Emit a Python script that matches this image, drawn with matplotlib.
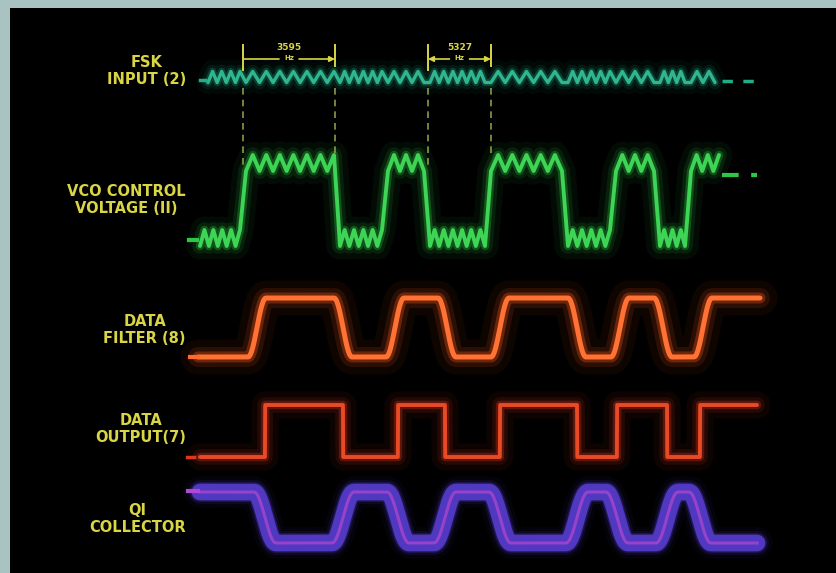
import numpy as np
import matplotlib.pyplot as plt

# scope trace data (horizontal positions in screen units, levels in screen units)
fsk_freqs = [3595, 5327]          # Hz, mark / space tones
vco_edges = [243, 337, 385, 427, 488, 565, 613, 657, 688]
vco_span = [197, 722]
vco_levels = [238, 163]           # low, high
fsk_level = 77
filter_edges = [257, 343, 395, 447, 500, 577, 620, 663, 703]
filter_span = [198, 760]
filter_levels = [357, 298]
output_edges = [265, 343, 398, 445, 500, 577, 617, 667, 700]
output_span = [200, 757]
output_levels = [457, 405]
q1_levels = [543, 492]            # level when output high, when output low
labels = ['FSK\nINPUT (2)', 'VCO CONTROL\nVOLTAGE (II)', 'DATA\nFILTER (8)',
          'DATA\nOUTPUT(7)', 'QI\nCOLLECTOR']
label_y = [71, 200, 330, 429, 519]
marks = [(243, 335, '3595'), (428, 491, '5327')]

YEL = '#d9d545'


def bit_at(x, edges):
    return np.searchsorted(edges, x, side='right') % 2


def step_trace(edges, span, levels, smooth=0.0):
    x = np.linspace(span[0], span[1], 2000)
    if smooth == 0:
        b = bit_at(x, edges).astype(float)
    else:
        b = np.zeros_like(x)
        for i, e in enumerate(edges):
            s = np.clip((x - e + smooth / 2) / smooth, 0, 1)
            s = 0.5 - 0.5 * np.cos(np.pi * s)
            b += s if i % 2 == 0 else -s
    y = levels[0] + (levels[1] - levels[0]) * b
    return x, y


def ripple_trace(edges, span, levels, amp, k=54000):
    xs, ys = [], []
    bounds = [span[0]] + edges + [span[1]]
    for i in range(len(bounds) - 1):
        a, b = bounds[i], bounds[i + 1]
        bit = i % 2
        period = k / (fsk_freqs[0] if bit else fsk_freqs[1])
        n = max(2, int(round((b - a) / (period / 2))))
        px = np.linspace(a + 3, b - 3, n + 1)
        py = levels[bit] + amp * np.where(np.arange(n + 1) % 2 == 0, 1, -1)
        xs.extend(px)
        ys.extend(py)
    return np.array(xs), np.array(ys)


def glow(ax, x, y, color, lw, core=None, spread=1.0):
    for w, a in [(7, 0.06), (4, 0.12), (2.2, 0.3)]:
        ax.plot(x, y, color=color, lw=lw + (w - 1) * lw * spread, alpha=a,
                solid_capstyle='round', solid_joinstyle='round')
    ax.plot(x, y, color=core or color, lw=lw, solid_joinstyle='round',
            solid_capstyle='round')


fig = plt.figure(figsize=(8.37, 5.73), dpi=100)
fig.patch.set_facecolor('#a9c3c2')
ax = fig.add_axes([10 / 837, 0, 827 / 837, 565 / 573])
ax.set_facecolor('black')
ax.set_xlim(10, 837)
ax.set_ylim(573, 8)
ax.axis('off')
ax.add_patch(plt.Rectangle((10, 8), 827, 565, color='black', zorder=-5))

# FSK input
fx, fy = ripple_trace(vco_edges, [205, 718], [fsk_level, fsk_level], 5.5)
glow(ax, fx, fy, '#1c9e7c', 2.4, '#2fb68e')
ax.plot([722, 757], [81, 81], color='#1fae86', lw=2.5, ls=(0, (3, 3)))
ax.plot([200, 205], [80, 80], color='#1fae86', lw=2.5)

# VCO control voltage
vx, vy = ripple_trace(vco_edges, vco_span, vco_levels, 8)
glow(ax, vx, vy, '#2cc845', 2.8, '#3ed456')
ax.plot([722, 757], [175, 175], color='#2cc845', lw=3, ls=(0, (4, 3)))
ax.plot([189, 197], [240, 240], color='#2cc845', lw=3)

# Data filter
dx, dy = step_trace(filter_edges, filter_span, filter_levels, smooth=18)
glow(ax, dx, dy, '#ff5a1e', 3.6, '#ff7233')
ax.plot([190, 198], [357, 357], color='#ff6a2a', lw=3)

# Data output
ox, oy = step_trace(output_edges, output_span, output_levels)
glow(ax, ox, oy, '#e0361e', 2.8, '#e84a26')
ax.plot([187, 194], [457, 457], color='#e0361e', lw=2.5)

# Q1 collector
qx, qy = step_trace(output_edges, output_span,
                    [q1_levels[1], q1_levels[0]], smooth=22)
glow(ax, qx, qy, '#4a36c8', 12, '#5038c0', spread=0.15)
ax.plot(qx, qy, color='#a044cc', lw=2.2, alpha=0.9)
ax.plot([188, 198], [491, 491], color='#b048d0', lw=3)

# labels
for t, y in zip(labels, label_y):
    ax.text(186, y, t, color=YEL, fontsize=10.5, fontweight='bold',
            ha='right', va='center', multialignment='center',
            linespacing=1.15, family='DejaVu Sans')

# frequency markers
for x0, x1, txt in marks:
    ax.plot([x0, x0], [88, 165], color='#8a9a45', lw=1.2, ls=(0, (4, 3)))
    ax.plot([x1, x1], [88, 158], color='#8a9a45', lw=1.2, ls=(0, (4, 3)))
    ax.plot([x0, x0], [45, 70], color=YEL, lw=1.4)
    ax.plot([x1, x1], [45, 66], color=YEL, lw=1.4)
    xm = (x0 + x1) / 2
    ax.text(xm, 47, txt, color=YEL, fontsize=6.5, fontweight='bold',
            ha='center', va='center')
    ax.text(xm, 58, 'Hz', color=YEL, fontsize=5, fontweight='bold',
            ha='center', va='center')
    ax.annotate('', xy=(x1, 59), xytext=(xm + 10, 59),
                arrowprops=dict(arrowstyle='-|>', color=YEL, lw=1.2,
                                mutation_scale=8, shrinkA=0, shrinkB=0))
    ax.annotate('', xy=(x0, 59), xytext=(xm - 10, 59),
                arrowprops=dict(arrowstyle='-|>' if txt == '5327' else '-',
                                color=YEL, lw=1.2, mutation_scale=8,
                                shrinkA=0, shrinkB=0))

plt.savefig('out.png', dpi=100, facecolor=fig.get_facecolor())
